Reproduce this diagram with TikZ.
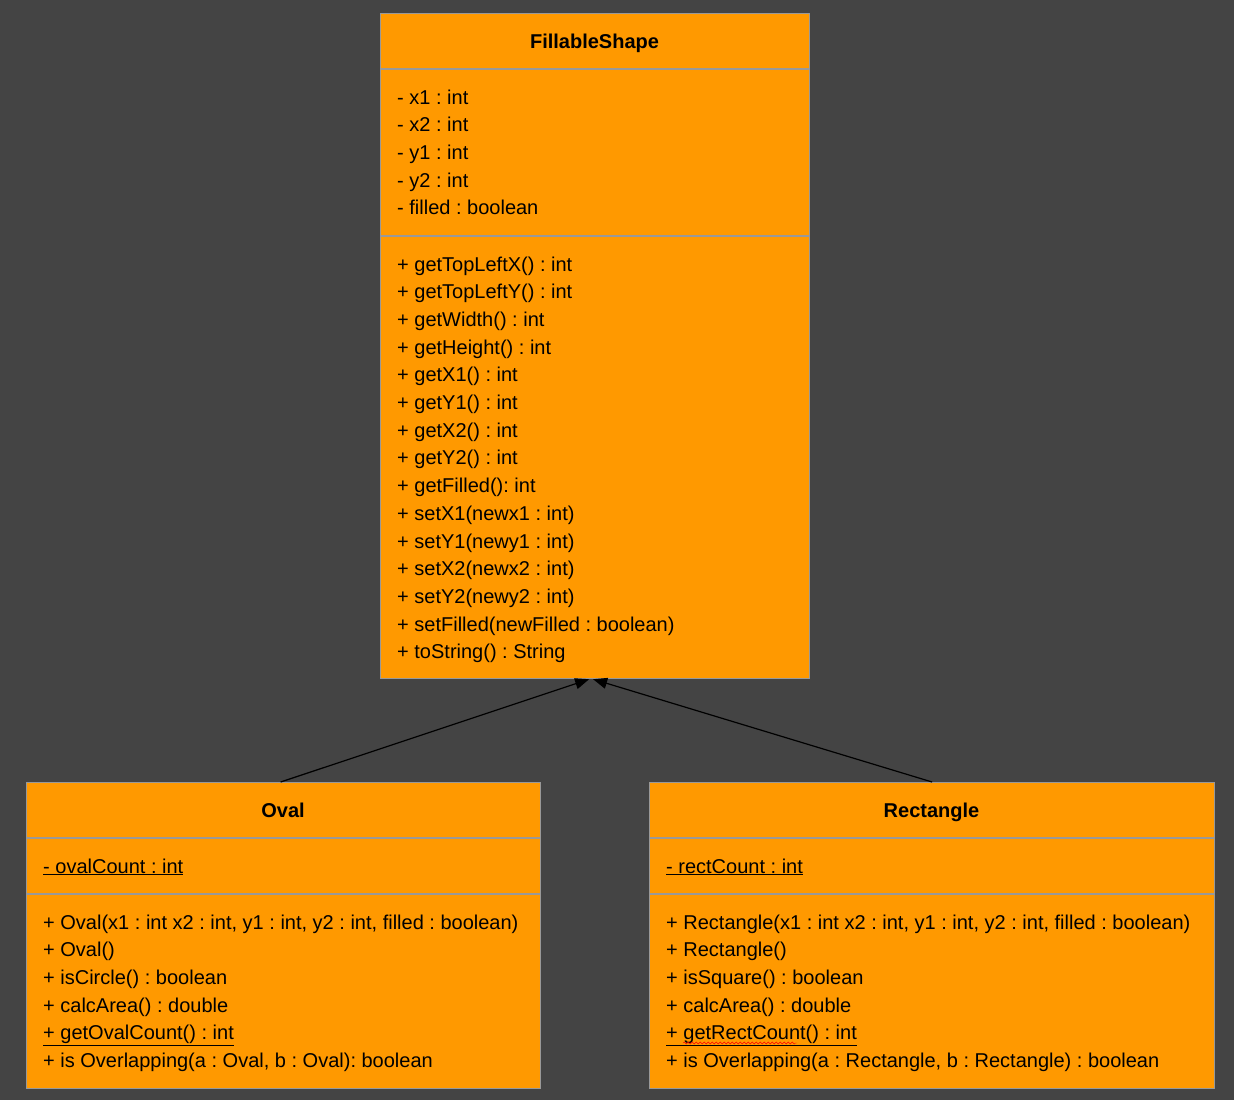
\documentclass[tikz,border=0pt]{standalone}
\usepackage{fontspec}
\setmainfont{Liberation Sans}
\frenchspacing
\usetikzlibrary{arrows.meta,decorations.pathmorphing}
\definecolor{bgdark}{HTML}{444444}
\definecolor{umlorange}{HTML}{FF9900}
\definecolor{umledge}{HTML}{999999}

\tikzset{
  classbox/.style={draw=umledge, fill=umlorange, line width=1.2pt, inner sep=0pt, anchor=north west},
  divider/.style={draw=umledge, line width=1.2pt},
  classname/.style={font=\fontsize{20}{24}\selectfont\bfseries, anchor=base, inner sep=0pt},
  member/.style={font=\fontsize{20}{24}\selectfont, anchor=base west, inner sep=0pt},
  extends/.style={-{Triangle[length=14pt,width=11pt]}, line width=1.2pt, black}
}

\begin{document}
\begin{tikzpicture}[x=1pt,y=-1pt]
\fill[bgdark] (0,0) rectangle (1234,1100);
\useasboundingbox (0,0) rectangle (1234,1100);

% FillableShape
\node[classbox, minimum width=429pt, minimum height=665pt] (fill) at (380,13) {};
\draw[divider] (380,69) -- (809,69);
\draw[divider] (380,236) -- (809,236);
\node[classname] (fillname) at (594.5,48) {FillableShape};
\foreach \t [count=\i] in {- x1 : int, - x2 : int, - y1 : int, - y2 : int, - filled : boolean}
  \node[member] (fa\i) at (397,{104+27.7*(\i-1)}) {\t};
\foreach \t [count=\i] in {+ getTopLeftX() : int, + getTopLeftY() : int, + getWidth() : int,
    + getHeight() : int, + getX1() : int, + getY1() : int, + getX2() : int, + getY2() : int,
    + getFilled(): int, + setX1(newx1 : int), + setY1(newy1 : int), + setX2(newx2 : int),
    + setY2(newy2 : int), + setFilled(newFilled : boolean), + toString() : String}
  \node[member] (fm\i) at (397,{271+27.7*(\i-1)}) {\t};

% Oval
\node[classbox, minimum width=514pt, minimum height=306pt] (oval) at (26,782) {};
\draw[divider] (26,838) -- (540,838);
\draw[divider] (26,894) -- (540,894);
\node[classname] (ovalname) at (283,817) {Oval};
\node[member] (oa1) at (43,873) {\underline{- ovalCount : int}};
\foreach \t [count=\i] in {{+ Oval(x1 : int x2 : int, y1 : int, y2 : int, filled : boolean)},
    + Oval(), + isCircle() : boolean, + calcArea() : double,
    \underline{+ getOvalCount() : int}, {+ is Overlapping(a : Oval, b : Oval): boolean}}
  \node[member] (om\i) at (43,{929+27.7*(\i-1)}) {\t};

% Rectangle
\node[classbox, minimum width=565pt, minimum height=306pt] (rect) at (649,782) {};
\draw[divider] (649,838) -- (1214,838);
\draw[divider] (649,894) -- (1214,894);
\node[classname] (rectname) at (931.5,817) {Rectangle};
\node[member] (ra1) at (666,873) {\underline{- rectCount : int}};
\foreach \t [count=\i] in {{+ Rectangle(x1 : int x2 : int, y1 : int, y2 : int, filled : boolean)},
    + Rectangle(), + isSquare() : boolean, + calcArea() : double,
    \underline{+ getRectCount() : int}, {+ is Overlapping(a : Rectangle, b : Rectangle) : boolean}}
  \node[member] (rm\i) at (666,{929+27.7*(\i-1)}) {\t};
\draw[red, decorate, decoration={snake, amplitude=1pt, segment length=4pt}] (683,1043) -- (797,1043);

% inheritance
\draw[extends] ([xshift=-3pt]oval.north) -- ([xshift=-6pt]fill.south);
\draw[extends] (rect.north) -- ([xshift=-2pt]fill.south);
\end{tikzpicture}
\end{document}
